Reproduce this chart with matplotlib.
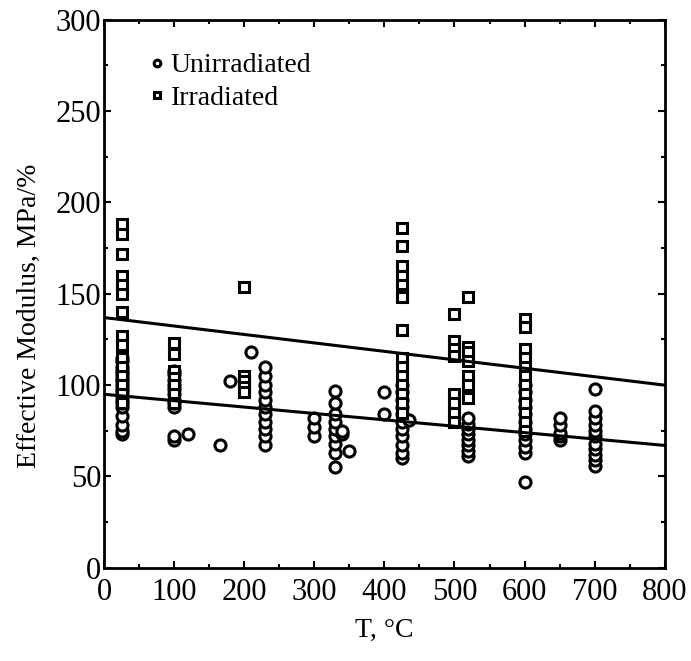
import numpy as np
import matplotlib.pyplot as plt
from matplotlib.ticker import MultipleLocator

plt.rcParams['font.family'] = ['Liberation Serif', 'DejaVu Serif']

# unirradiated (circles): temperature -> list of moduli
unirr_T = [25, 100, 120, 165, 180, 210, 230, 300, 330, 340, 350, 400, 425, 435,
           520, 600, 650, 700]
unirr_E = [
    [73, 75, 78, 83, 88, 90, 92, 94, 96, 98, 100, 102, 104, 106, 108, 110, 113, 115],
    [70, 72, 88, 90, 92, 95, 98, 100, 103, 106, 108],
    [73],
    [67],
    [102],
    [118],
    [67, 72, 76, 80, 84, 88, 92, 96, 100, 105, 110],
    [72, 77, 82],
    [55, 63, 68, 72, 76, 80, 84, 90, 97],
    [73, 75],
    [64],
    [84, 96],
    [60, 63, 67, 72, 76, 80, 84, 88, 92, 96, 100],
    [81],
    [61, 64, 67, 70, 73, 76, 79, 82],
    [47, 63, 66, 70, 73, 76, 80, 84, 88, 92, 96, 100],
    [70, 72, 74, 78, 82],
    [56, 59, 62, 65, 68, 72, 75, 78, 82, 86, 98],
]

# irradiated (squares)
irr_T = [25, 100, 200, 425, 500, 520, 600]
irr_E = [
    [188, 183, 172, 160, 155, 150, 140, 127, 122, 115, 110, 105, 100, 95, 90],
    [123, 117, 108, 104, 100, 95, 90],
    [154, 105, 102, 99, 96],
    [186, 176, 165, 160, 155, 150, 148, 130, 115, 110, 105, 100, 95, 90, 85],
    [139, 124, 120, 116, 95, 90, 85, 80],
    [148, 121, 118, 113, 105, 100, 93],
    [136, 132, 120, 115, 110, 105, 100, 95, 90, 85, 80, 75],
]

# fitted trend lines (endpoints)
fit_T = [0, 800]
fit_irr = [137, 100]
fit_unirr = [95, 67]

ux = [t for t, es in zip(unirr_T, unirr_E) for _ in es]
uy = [e for es in unirr_E for e in es]
ix = [t for t, es in zip(irr_T, irr_E) for _ in es]
iy = [e for es in irr_E for e in es]

fig = plt.figure(figsize=(6.91, 6.61), dpi=100)
ax = fig.add_axes([0.1505, 0.141, 0.8115, 0.829])

ax.plot(ux, uy, 'o', ms=8, mfc='white', mec='black', mew=2.2, ls='none',
        label='Unirradiated')
ax.plot(ix, iy, 's', ms=7.5, mfc='white', mec='black', mew=2.2, ls='none',
        label='Irradiated')
ax.plot(fit_T, fit_irr, color='black', lw=2.2)
ax.plot(fit_T, fit_unirr, color='black', lw=2.2)

ax.set_xlim(0, 800)
ax.set_ylim(0, 300)
ax.xaxis.set_major_locator(MultipleLocator(100))
ax.xaxis.set_minor_locator(MultipleLocator(50))
ax.yaxis.set_major_locator(MultipleLocator(50))
ax.yaxis.set_minor_locator(MultipleLocator(25))
ax.tick_params(which='both', direction='in', top=True, right=True,
               labelsize=22, width=1.5)
ax.tick_params(axis='x', pad=7)
ax.tick_params(axis='y', pad=2)
ax.tick_params(which='major', length=5)
ax.tick_params(which='minor', length=3)
for s in ax.spines.values():
    s.set_linewidth(2)

ax.set_xlabel('T, °C', fontsize=20, labelpad=8)
ax.set_ylabel('Effective Modulus, MPa/%', fontsize=20)
ax.yaxis.set_label_coords(-0.11, 0.46)

ax.legend(loc='upper left', bbox_to_anchor=(0.05, 0.975), frameon=False,
          fontsize=20, markerscale=0.6, handlelength=0.4, handletextpad=0.3,
          labelspacing=0.25, borderpad=0.2)

fig.savefig('out.png', dpi=100)
